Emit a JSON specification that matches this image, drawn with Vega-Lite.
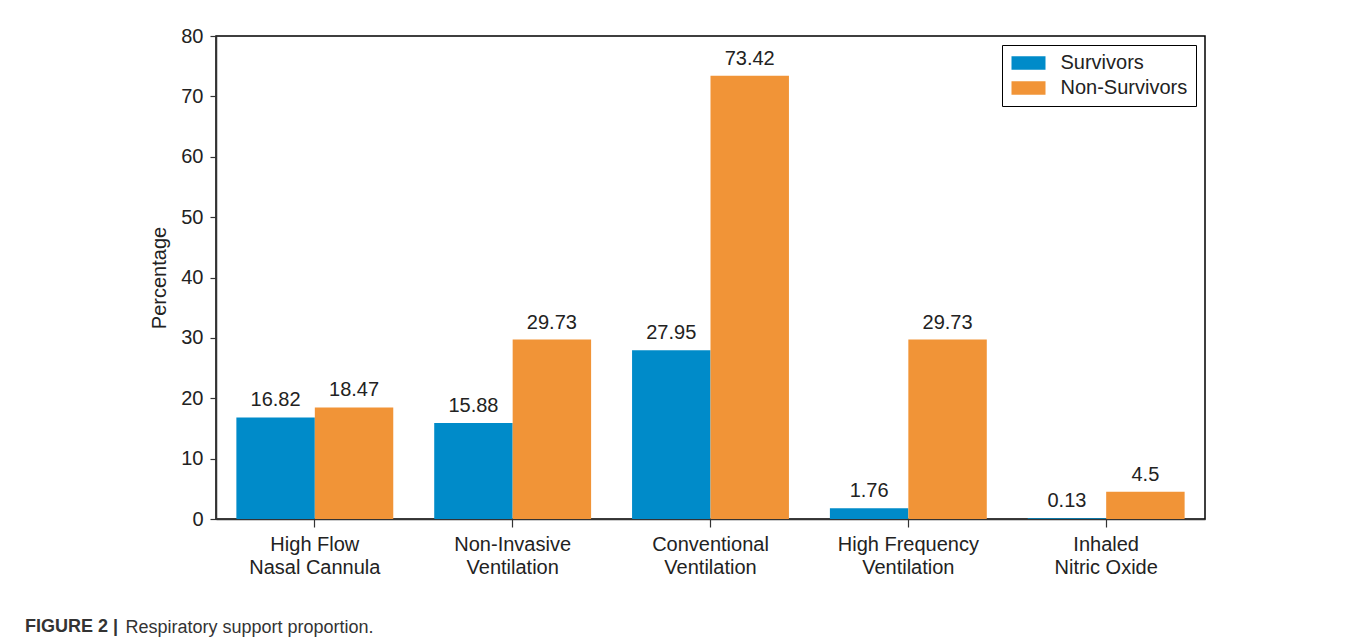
{
  "$schema": "https://vega.github.io/schema/vega-lite/v6.json",
  "width": 989,
  "height": 483,
  "autosize": {"type": "none"},
  "padding": {"left": 216, "top": 36, "right": 150, "bottom": 122},
  "background": "white",
  "title": {
    "text": "FIGURE 2 |",
    "orient": "bottom",
    "anchor": "start",
    "frame": "group",
    "dx": -191,
    "offset": -4,
    "baseline": "alphabetic",
    "font": "Liberation Sans",
    "fontSize": 18,
    "fontWeight": "bold",
    "color": "#333333"
  },
  "data": {
    "values": [
      {"category": "High Flow\nNasal Cannula", "group": "Survivors", "value": 16.82},
      {"category": "High Flow\nNasal Cannula", "group": "Non-Survivors", "value": 18.47},
      {"category": "Non-Invasive\nVentilation", "group": "Survivors", "value": 15.88},
      {"category": "Non-Invasive\nVentilation", "group": "Non-Survivors", "value": 29.73},
      {"category": "Conventional\nVentilation", "group": "Survivors", "value": 27.95},
      {"category": "Conventional\nVentilation", "group": "Non-Survivors", "value": 73.42},
      {"category": "High Frequency\nVentilation", "group": "Survivors", "value": 1.76},
      {"category": "High Frequency\nVentilation", "group": "Non-Survivors", "value": 29.73},
      {"category": "Inhaled\nNitric Oxide", "group": "Survivors", "value": 0.13},
      {"category": "Inhaled\nNitric Oxide", "group": "Non-Survivors", "value": 4.5}
    ]
  },
  "encoding": {
    "x": {
      "field": "category",
      "type": "nominal",
      "sort": null,
      "scale": {"paddingInner": 0.207, "paddingOuter": 0.103},
      "axis": {
        "title": "Respiratory support proportion.",
        "titleX": -91,
        "titleY": 113,
        "titleAnchor": "start",
        "titleAlign": "left",
        "titleBaseline": "alphabetic",
        "titleFont": "Liberation Sans",
        "titleFontSize": 18,
        "titleFontWeight": "normal",
        "titleColor": "#333333",
        "labelAngle": 0,
        "labelExpr": "split(datum.label, '\\n')",
        "labelLineHeight": 23,
        "labelFont": "Liberation Sans",
        "labelFontSize": 20,
        "labelColor": "#222222",
        "labelPadding": 7,
        "bandPosition": 0.5,
        "tickSize": 8,
        "tickColor": "#333333",
        "tickWidth": 1.2,
        "domainColor": "#333333",
        "domainWidth": 1.5
      }
    },
    "xOffset": {
      "field": "group",
      "type": "nominal",
      "sort": ["Survivors", "Non-Survivors"],
      "scale": {"paddingInner": 0, "paddingOuter": 0}
    },
    "y": {
      "field": "value",
      "type": "quantitative",
      "scale": {"domain": [0, 80], "nice": false},
      "axis": {
        "title": "Percentage",
        "titleFont": "Liberation Sans",
        "titleFontSize": 20,
        "titleFontWeight": "normal",
        "titleColor": "#222222",
        "titlePadding": 11,
        "values": [0, 10, 20, 30, 40, 50, 60, 70, 80],
        "grid": false,
        "labelFont": "Liberation Sans",
        "labelFontSize": 20,
        "labelColor": "#222222",
        "labelPadding": 7,
        "tickSize": 6,
        "tickColor": "#333333",
        "tickWidth": 1.2,
        "domainColor": "#333333",
        "domainWidth": 1.5
      }
    }
  },
  "layer": [
    {
      "mark": {"type": "bar", "stroke": null},
      "encoding": {
        "color": {
          "field": "group",
          "type": "nominal",
          "sort": ["Survivors", "Non-Survivors"],
          "scale": {"domain": ["Survivors", "Non-Survivors"], "range": ["#008bc9", "#f19437"]},
          "legend": {
            "title": null,
            "orient": "top-right",
            "offset": 9,
            "strokeColor": "#000000",
            "padding": 8,
            "symbolType": "M-2,-0.78H2V0.78H-2Z",
            "symbolSize": 289,
            "symbolOffset": 8.5,
            "symbolStrokeWidth": 0,
            "symbolOpacity": 1,
            "labelFont": "Liberation Sans",
            "labelFontSize": 20,
            "labelColor": "#222222",
            "labelOffset": 22,
            "rowPadding": 5
          }
        }
      }
    },
    {
      "mark": {
        "type": "text",
        "baseline": "alphabetic",
        "dy": -11,
        "font": "Liberation Sans",
        "fontSize": 20,
        "color": "#222222"
      },
      "encoding": {
        "text": {"field": "value", "type": "quantitative"}
      }
    }
  ],
  "config": {
    "view": {"stroke": "#000000", "strokeWidth": 1.5}
  }
}
